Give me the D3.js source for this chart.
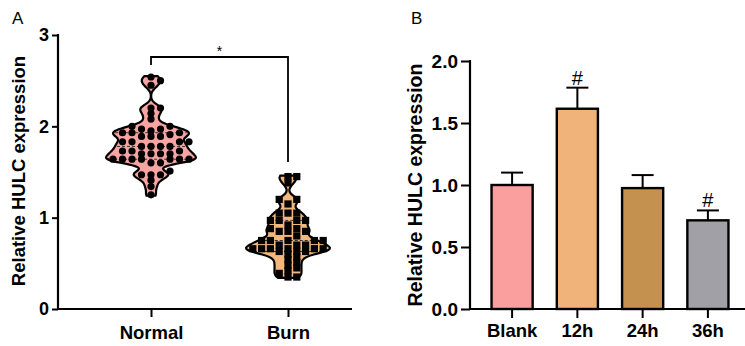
<!DOCTYPE html>
<html>
<head>
<meta charset="utf-8">
<script src="https://cdn.jsdelivr.net/npm/d3@7/dist/d3.min.js"></script>
<style>
  body { margin: 0; background: #fff; }
  svg { display: block; font-family: "Liberation Sans", Arial, sans-serif; }
</style>
</head>
<body>
<div id="chart"></div>
<script>
// Panel A: individual values
const groupsA = ['Normal', 'Burn'];
const normalVals = [2.54, 2.50, 2.45, 2.20, 2.20, 2.14, 2.08, 2.00, 2.00, 1.97, 1.97, 1.95, 1.93, 1.93, 1.93,
  1.91, 1.89, 1.89, 1.89, 1.83, 1.83, 1.83, 1.83, 1.78, 1.78, 1.78, 1.78, 1.73, 1.73, 1.73,
  1.70, 1.70, 1.70, 1.70, 1.64, 1.64, 1.64, 1.64, 1.64, 1.64, 1.64, 1.60, 1.60,
  1.51, 1.47, 1.47, 1.47, 1.41, 1.34, 1.25];
const burnVals = [1.45, 1.45, 1.38, 1.20, 1.20, 1.15, 1.05, 1.05, 1.05, 0.97, 0.97, 0.97, 0.97,
  0.92, 0.88, 0.88, 0.85, 0.85, 0.85, 0.80, 0.75, 0.75, 0.75, 0.75, 0.75, 0.70, 0.70, 0.70,
  0.66, 0.66, 0.66, 0.66, 0.66, 0.66, 0.63, 0.63, 0.63, 0.60, 0.57, 0.54, 0.51, 0.48, 0.45,
  0.42, 0.39, 0.35, 0.35];
const ticksA = [0, 1, 2, 3];

// Panel B: bar means and upper error
const groupsB = ['Blank', '12h', '24h', '36h'];
const meansB = [1.00, 1.615, 0.975, 0.715];
const errB = [0.10, 0.17, 0.105, 0.08];
const sigB = ['', '#', '', '#'];
const ticksB = [0, 0.5, 1.0, 1.5, 2.0];

const W = 745, H = 346;
const svg = d3.select('#chart').append('svg').attr('width', W).attr('height', H);

// ---------- Panel A ----------
const yA = d3.scaleLinear().domain([0, 3]).range([309, 35]);
const xA = d3.scalePoint().domain(groupsA).range([151, 288]);
const gA = svg.append('g');

// violins (gaussian kde truncated at min / max)
function kde(vals, bw, lo, hi, n) {
  const pts = d3.range(n + 1).map(i => lo + (hi - lo) * i / n);
  return pts.map(v => [v, d3.mean(vals, d => Math.exp(-0.5 * ((v - d) / bw) ** 2))]);
}
const violins = [
  { name: 'Normal', vals: normalVals, bw: 0.043, fill: '#f7a4a2', maxW: 45, shape: 'circle', step: 9.5 },
  { name: 'Burn', vals: burnVals, bw: 0.045, fill: '#f2b77d', maxW: 42, shape: 'square', step: 8.8 }
];

violins.forEach(v => {
  const cx = xA(v.name);
  const ext = d3.extent(v.vals);
  const dens = kde(v.vals, v.bw, ext[0] - 0.01, ext[1] + 0.01, 140);
  const wScale = d3.scaleLinear().domain([0, d3.max(dens, d => d[1])]).range([0, v.maxW]);
  const area = d3.area()
    .y(d => yA(d[0]))
    .x0(d => cx - wScale(d[1]))
    .x1(d => cx + wScale(d[1]))
    .curve(d3.curveBasis);
  gA.append('path').datum(dens).attr('d', area)
    .attr('fill', v.fill).attr('stroke', '#000').attr('stroke-width', 2.2);

  // median and quartiles
  const sorted = v.vals.slice().sort(d3.ascending);
  [0.25, 0.5, 0.75].forEach(q => {
    const val = d3.quantile(sorted, q);
    const w = wScale(dens.reduce((a, b) => Math.abs(b[0] - val) < Math.abs(a[0] - val) ? b : a)[1]);
    gA.append('line')
      .attr('x1', cx - w + 2).attr('x2', cx + w - 2)
      .attr('y1', yA(val)).attr('y2', yA(val))
      .attr('stroke', '#333').attr('stroke-width', 1).attr('stroke-dasharray', '3,2');
  });

  // points: column beeswarm (same column allowed if rows are far enough apart)
  const placed = [];
  sorted.forEach(val => {
    const py = yA(val);
    let col = 0;
    for (let k = 0; k < 40; k++) {
      const c = k === 0 ? 0 : (k % 2 ? Math.ceil(k / 2) : -k / 2);
      if (!placed.some(p => p.c === c && Math.abs(p.y - py) < 5.2)) { col = c; break; }
    }
    placed.push({ c: col, y: py });
  });
  placed.forEach(p => {
    const px = cx + p.c * v.step;
    if (v.shape === 'circle') {
      gA.append('circle').attr('cx', px).attr('cy', p.y).attr('r', 3.6).attr('fill', '#000');
    } else {
      gA.append('rect').attr('x', px - 3.6).attr('y', p.y - 3.6)
        .attr('width', 7.2).attr('height', 7.2).attr('fill', '#000');
    }
  });
});

// axes A
const axA = gA.append('g').attr('transform', 'translate(58,0)')
  .call(d3.axisLeft(yA).tickValues(ticksA).tickSize(6).tickPadding(3).tickFormat(d3.format('d')));
axA.select('.domain').remove();
axA.selectAll('line').attr('stroke-width', 2);
axA.selectAll('text').attr('font-size', 18).attr('font-weight', 'bold').attr('fill', '#000');
gA.append('line').attr('x1', 58).attr('x2', 58).attr('y1', 34).attr('y2', 310)
  .attr('stroke', '#000').attr('stroke-width', 2.2);

const axAx = gA.append('g').attr('transform', 'translate(0,309)')
  .call(d3.axisBottom(xA).tickSize(8).tickPadding(9).tickSizeOuter(0));
axAx.select('.domain').remove();
axAx.selectAll('line').attr('stroke-width', 2);
axAx.selectAll('text').attr('font-size', 18.5).attr('font-weight', 'bold').attr('fill', '#000');
gA.append('line').attr('x1', 57).attr('x2', 352).attr('y1', 309).attr('y2', 309)
  .attr('stroke', '#000').attr('stroke-width', 2.2);

gA.append('text').attr('transform', 'translate(25,171) rotate(-90)')
  .attr('text-anchor', 'middle').attr('font-size', 18.5).attr('font-weight', 'bold')
  .text('Relative HULC expression');
gA.append('text').attr('x', 12).attr('y', 24).attr('font-size', 17).text('A');

// significance bracket
gA.append('path')
  .attr('d', `M${xA('Normal')},65V57H${xA('Burn')}V162`)
  .attr('fill', 'none').attr('stroke', '#000').attr('stroke-width', 1.8);
gA.append('text').attr('x', (xA('Normal') + xA('Burn')) / 2).attr('y', 56)
  .attr('text-anchor', 'middle').attr('font-size', 14).text('*');

// ---------- Panel B ----------
const yB = d3.scaleLinear().domain([0, 2]).range([309, 61]);
const xB = d3.scaleBand().domain(groupsB).range([470, 750]).paddingInner(0.37).paddingOuter(0.33);
const colorsB = ['#fa9e9e', '#f0b47a', '#c4914f', '#a1a0a6'];
const gB = svg.append('g');

groupsB.forEach((g, i) => {
  const cx = xB(g) + xB.bandwidth() / 2;
  // error bar (upper only)
  gB.append('line').attr('x1', cx).attr('x2', cx)
    .attr('y1', yB(meansB[i])).attr('y2', yB(meansB[i] + errB[i]))
    .attr('stroke', '#000').attr('stroke-width', 2);
  gB.append('line').attr('x1', cx - 11).attr('x2', cx + 11)
    .attr('y1', yB(meansB[i] + errB[i])).attr('y2', yB(meansB[i] + errB[i]))
    .attr('stroke', '#000').attr('stroke-width', 2);
  gB.append('rect').attr('x', xB(g)).attr('y', yB(meansB[i]))
    .attr('width', xB.bandwidth()).attr('height', yB(0) - yB(meansB[i]))
    .attr('fill', colorsB[i]).attr('stroke', '#000').attr('stroke-width', 2.4);
  if (sigB[i]) {
    gB.append('text').attr('x', cx).attr('y', yB(meansB[i] + errB[i]) - 3)
      .attr('text-anchor', 'middle').attr('font-size', 20).text(sigB[i]);
  }
});

const axB = gB.append('g').attr('transform', 'translate(470,0)')
  .call(d3.axisLeft(yB).tickValues(ticksB).tickSize(9).tickPadding(3).tickFormat(d3.format('.1f')));
axB.select('.domain').remove();
axB.selectAll('line').attr('stroke-width', 2);
axB.selectAll('text').attr('font-size', 19).attr('font-weight', 'bold').attr('fill', '#000');
gB.append('line').attr('x1', 470).attr('x2', 470).attr('y1', 60).attr('y2', 310)
  .attr('stroke', '#000').attr('stroke-width', 2.2);

const axBx = gB.append('g').attr('transform', 'translate(0,309)')
  .call(d3.axisBottom(xB).tickSize(9).tickPadding(6).tickSizeOuter(0));
axBx.select('.domain').remove();
axBx.selectAll('line').attr('stroke-width', 2);
axBx.selectAll('text').attr('font-size', 18.5).attr('font-weight', 'bold').attr('fill', '#000');
gB.append('line').attr('x1', 469).attr('x2', 745).attr('y1', 309).attr('y2', 309)
  .attr('stroke', '#000').attr('stroke-width', 2.2);

gB.append('text').attr('transform', 'translate(422,185) rotate(-90)')
  .attr('text-anchor', 'middle').attr('font-size', 19.5).attr('font-weight', 'bold')
  .text('Relative HULC expression');
gB.append('text').attr('x', 411).attr('y', 24).attr('font-size', 17).text('B');
</script>
</body>
</html>
